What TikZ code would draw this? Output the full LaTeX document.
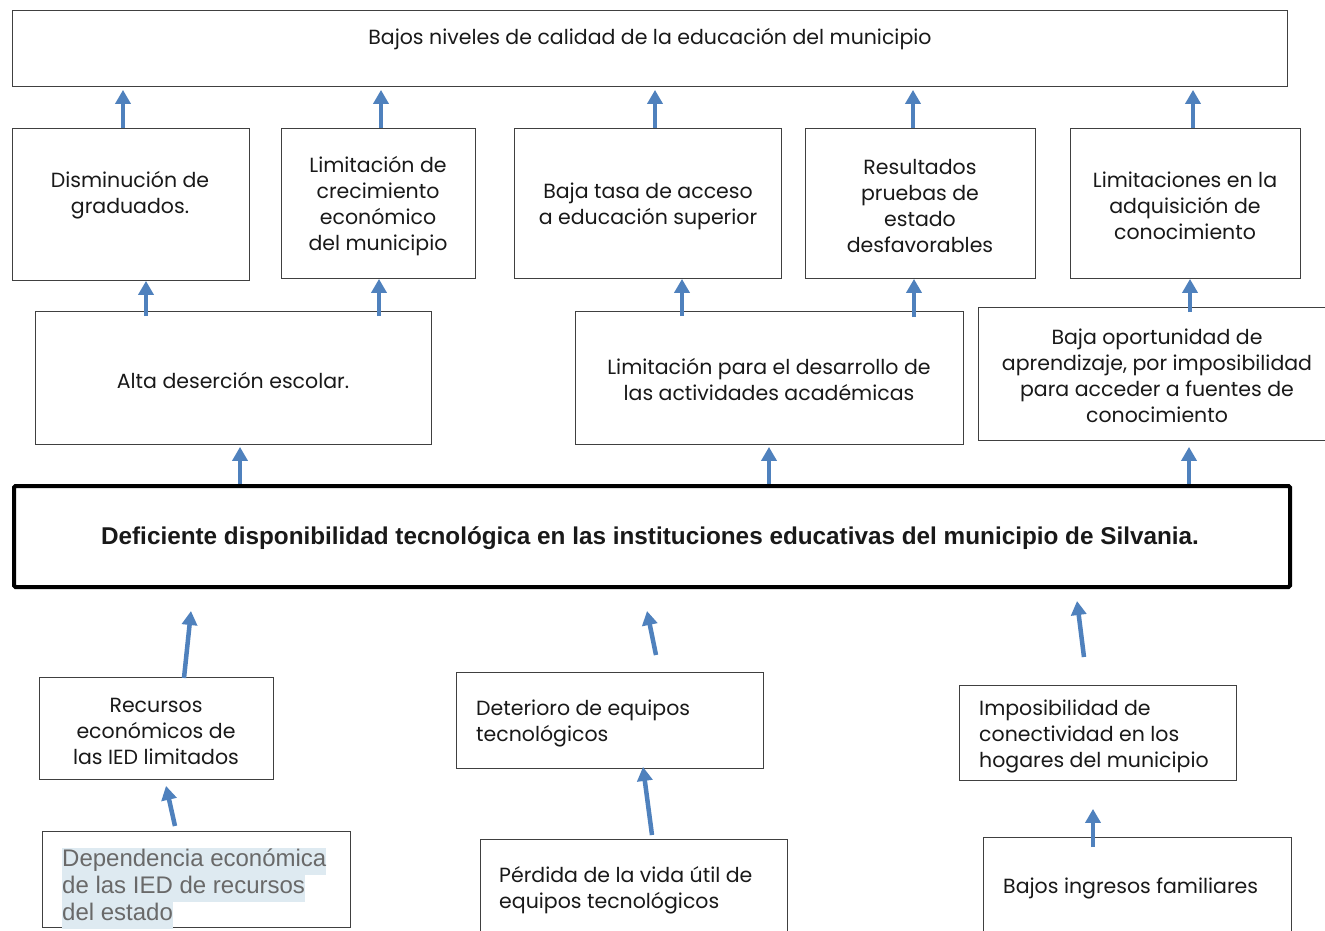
\documentclass[tikz,border=0pt]{standalone}
\usepackage{fontspec}
\setmainfont{Poppins}
\newfontfamily\arialf{Liberation Sans}
\usetikzlibrary{arrows.meta,calc}
\definecolor{arrblue}{RGB}{79,129,189}
\definecolor{boxline}{RGB}{64,64,64}
\definecolor{hlblue}{RGB}{222,234,241}
\definecolor{hltext}{RGB}{105,105,105}
\newcommand{\hlline}[1]{{\setlength{\fboxsep}{0pt}\colorbox{hlblue}{\strut #1}}}
\begin{document}
\begin{tikzpicture}[x=1pt,y=-1pt,
  box/.style={draw=boxline, line width=0.9pt, inner sep=0pt, anchor=north west},
  txt/.style={font=\fontsize{20.5}{26}\selectfont, align=center, inner sep=0pt, text=black!90, yshift=-2pt},
  ltxt/.style={txt, align=left, anchor=west},
  arr/.style={draw=arrblue, line width=4.5pt, -{Triangle[width=15pt,length=14pt]}}]
\clip (0,0) rectangle (1325,931);
\fill[white] (0,0) rectangle (1325,931);
% effect boxes
\node[box, minimum width=1275pt, minimum height=76pt] (top) at (12,10) {};
\node[txt] (toptxt) at ($(top.north)+(0,27)$) {Bajos niveles de calidad de la educación del municipio};
\node[box, minimum width=237pt, minimum height=152pt] (dis) at (12,128) {};
\node[txt] (distxt) at (130,193) {Disminución de\\graduados.};
\node[box, minimum width=194pt, minimum height=150pt] (lim) at (281,128) {};
\node[txt] (limtxt) at (378,204) {Limitación de\\crecimiento\\económico\\del municipio};
\node[box, minimum width=267pt, minimum height=150pt] (baj) at (514,128) {};
\node[txt] (bajtxt) at (648,204) {Baja tasa de acceso\\a educación superior};
\node[box, minimum width=230pt, minimum height=150pt] (res) at (805,128) {};
\node[txt] (restxt) at (920,204) {Resultados\\pruebas de\\estado\\desfavorables};
\node[box, minimum width=230pt, minimum height=150pt] (lia) at (1070,128) {};
\node[txt] (liatxt) at (1185,204) {Limitaciones en la\\adquisición de\\conocimiento};
\node[box, minimum width=396pt, minimum height=133pt] (alt) at (35,311) {};
\node[txt] (alttxt) at (233,379) {Alta deserción escolar.};
\node[box, minimum width=388pt, minimum height=133pt] (lpd) at (575,311) {};
\node[txt] (lpdtxt) at (769,378) {Limitación para el desarrollo de\\las actividades académicas};
\node[box, minimum width=352pt, minimum height=133pt] (bop) at (978,307) {};
\node[txt] (boptxt) at (1157,374) {Baja oportunidad de\\aprendizaje, por imposibilidad\\para acceder a fuentes de\\conocimiento};
% central problem
\node[box, draw=black, line width=4pt, rounded corners=1.5pt, minimum width=1276pt, minimum height=101pt] (main) at (12,484) {};
\node[txt, font=\arialf\bfseries\fontsize{24.3}{28}\selectfont, yshift=0pt] (maintxt) at (650,536) {Deficiente disponibilidad tecnológica en las instituciones educativas del municipio de Silvania.};
% cause boxes
\node[box, minimum width=234pt, minimum height=102pt] (rec) at (39,677) {};
\node[txt] (rectxt) at (156,729) {Recursos\\económicos de\\las IED limitados};
\node[box, minimum width=307pt, minimum height=96pt] (det) at (456,672) {};
\node[ltxt] (dettxt) at (476,721) {Deterioro de equipos\\tecnológicos};
\node[box, minimum width=277pt, minimum height=95pt] (imp) at (959,685) {};
\node[ltxt] (imptxt) at (979,734) {Imposibilidad de\\conectividad en los\\hogares del municipio};
\node[box, minimum width=308pt, minimum height=96pt] (dep) at (42,831) {};
\node[ltxt, font=\arialf\fontsize{24}{27}\selectfont, text=hltext, yshift=-3pt] (deptxt) at (62,883) {\hlline{Dependencia económica}\\\hlline{de las IED de recursos}\\\hlline{del estado}};
\node[box, minimum width=307pt, minimum height=110pt] (per) at (480,839) {};
\node[ltxt] (pertxt) at (499,888) {Pérdida de la vida útil de\\equipos tecnológicos};
\node[box, minimum width=308pt, minimum height=110pt] (bin) at (983,837) {};
\node[ltxt] (bintxt) at (1003,886) {Bajos ingresos familiares};
% arrows: effects to top
\draw[arr, shorten >=3pt] (dis.north -| 123,0) -- (top.south -| 123,0);
\draw[arr, shorten >=3pt] (lim.north -| 381,0) -- (top.south -| 381,0);
\draw[arr, shorten >=3pt] (baj.north -| 655,0) -- (top.south -| 655,0);
\draw[arr, shorten >=3pt] (res.north -| 913,0) -- (top.south -| 913,0);
\draw[arr, shorten >=3pt] (lia.north -| 1193,0) -- (top.south -| 1193,0);
% second level
\draw[arr, shorten <=-5pt] (alt.north -| 146,0) -- (dis.south -| 146,0);
\draw[arr, shorten <=-5pt] (alt.north -| 379,0) -- (lim.south -| 379,0);
\draw[arr, shorten <=-5pt] (lpd.north -| 682,0) -- (baj.south -| 682,0);
\draw[arr, shorten <=-6pt] (lpd.north -| 914,0) -- (res.south -| 914,0);
\draw[arr, shorten <=-5pt] (bop.north -| 1190,0) -- (lia.south -| 1190,0);
% main to effects
\draw[arr, shorten >=2pt] (main.north -| 240,0) -- (alt.south -| 240,0);
\draw[arr, shorten >=2pt] (main.north -| 769,0) -- (lpd.south -| 769,0);
\draw[arr, shorten >=6pt] (main.north -| 1189,0) -- (bop.south -| 1189,0);
% causes to main
\draw[arr] ($(rec.north west)+(145,1)$) -- ($(main.south west)+(179,22)$);
\draw[arr] ($(det.north west)+(200,-17)$) -- ($(main.south west)+(635,22)$);
\draw[arr] ($(imp.north west)+(125,-28)$) -- ($(main.south west)+(1065,12)$);
% root causes
\draw[arr] ($(dep.north west)+(133,-5)$) -- ($(rec.south west)+(127,6)$);
\draw[arr] ($(per.north west)+(172,-4)$) -- ($(det.south west)+(187,-2)$);
\draw[arr] ($(bin.north west)+(110,10)$) -- ($(imp.south west)+(134,28)$);
\end{tikzpicture}
\end{document}
